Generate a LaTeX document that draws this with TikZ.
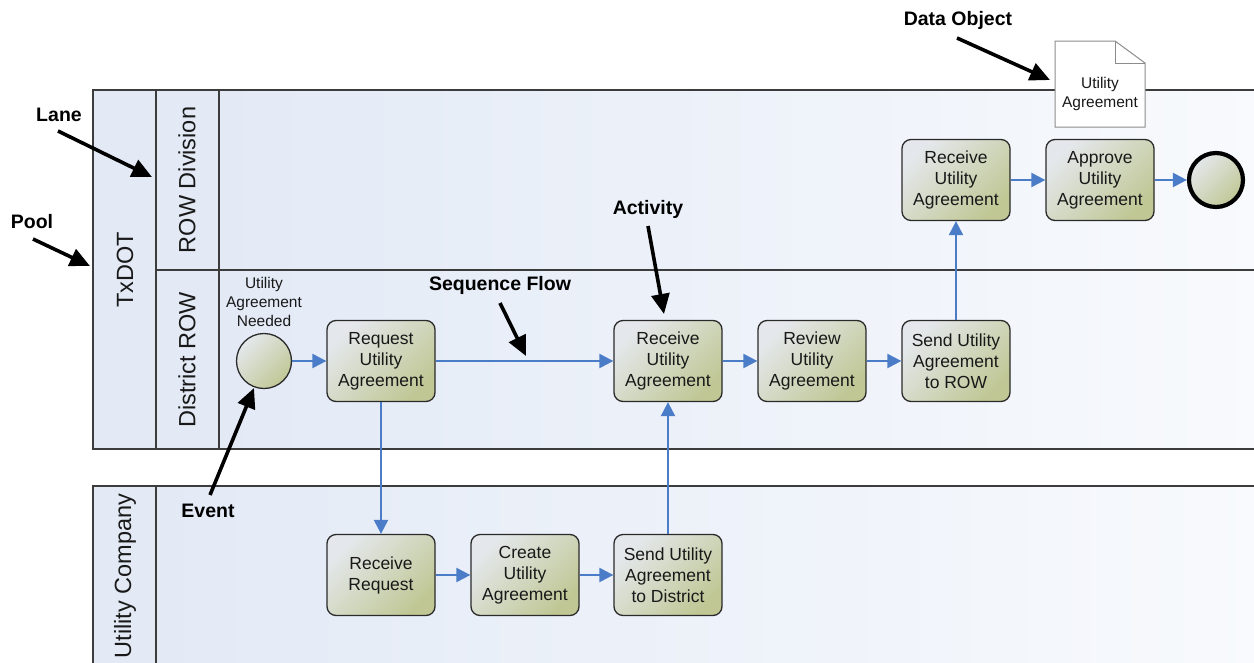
\documentclass[tikz,border=0pt]{standalone}
\usepackage{fontspec}
\setmainfont{Liberation Sans}
\usetikzlibrary{arrows.meta,calc}
\definecolor{flowblue}{HTML}{4A7CC8}
\definecolor{laneL}{HTML}{E3EAF6}
\definecolor{laneR}{HTML}{F8FAFD}
\definecolor{colfill}{HTML}{E3EAF5}
\definecolor{poolgray}{HTML}{3C3C3C}
\definecolor{taskL}{HTML}{E4E8EC}
\definecolor{taskD}{HTML}{C0C795}
\definecolor{taskline}{HTML}{2A2A2A}
\begin{document}
\begin{tikzpicture}[x=1pt,y=-1pt,
  poolline/.style={draw=poolgray,line width=1.5pt},
  lanetext/.style={rotate=90,font=\fontsize{23.5}{26}\selectfont,text=black!90},
  task/.style={draw=taskline,line width=1.3pt,rounded corners=9pt,
    top color=taskL,bottom color=taskD,shading angle=45,
    minimum width=108pt,minimum height=81pt,inner sep=2pt,align=center,
    font=\fontsize{17.5}{21}\selectfont,text=black!90},
  evt/.style={circle,draw=taskline,top color=taskL,bottom color=taskD,shading angle=45,
    minimum size=55pt,inner sep=0pt},
  flow/.style={draw=flowblue,line width=2.2pt,-{Triangle[length=14pt,width=14pt]}},
  annot/.style={draw=black,line width=3.6pt,-{Triangle[length=20pt,width=18pt]}},
  annotext/.style={font=\fontsize{19.5}{22}\selectfont\bfseries,text=black},
  smalltext/.style={align=center,font=\fontsize{15.5}{19}\selectfont,text=black!90}
]
\clip (0,0) rectangle (1254,662);
\fill[white] (0,0) rectangle (1254,662);

% TxDOT pool
\fill[left color=laneL,right color=laneR] (219,90) rectangle (1262,449);
\fill[colfill] (93,90) rectangle (219,449);
\draw[poolline] (1262,90) -- (93,90) -- (93,449) -- (1262,449);
\draw[poolline] (156,90) -- (156,449);
\draw[poolline] (219,90) -- (219,449);
\draw[poolline] (156,270) -- (1262,270);

% Utility Company pool
\fill[left color=laneL,right color=laneR] (156,486) rectangle (1262,670);
\fill[colfill] (93,486) rectangle (156,670);
\draw[poolline] (1262,486) -- (93,486) -- (93,670);
\draw[poolline] (156,486) -- (156,670);

% lane / pool labels
\node[lanetext] (txdot) at (125,270) {TxDOT};
\node[lanetext] (rowdiv) at (187,180) {ROW Division};
\node[lanetext] (distrow) at (187,360) {District ROW};
\node[lanetext] (ucomp) at (125,576) {Utility Company};

% events
\node[evt,line width=1.3pt] (start) at (264,361) {};
\node[smalltext] (startlbl) at (264,302) {Utility\\Agreement\\Needed};
\node[evt,draw=black,line width=4.2pt,minimum size=54pt] (end) at (1216,180) {};

% tasks
\node[task] (req) at (381,361) {Request\\Utility\\Agreement};
\node[task] (recv) at (668,361) {Receive\\Utility\\Agreement};
\node[task] (review) at (812,361) {Review\\Utility\\Agreement};
\node[task] (sendrow) at (956,361) {Send Utility\\Agreement\\to ROW};
\node[task] (recvrow) at (956,180) {Receive\\Utility\\Agreement};
\node[task] (approve) at (1100,180) {Approve\\Utility\\Agreement};
\node[task] (recvreq) at (381,575) {Receive\\Request};
\node[task] (create) at (525,575) {Create\\Utility\\Agreement};
\node[task] (senddist) at (668,575) {Send Utility\\Agreement\\to District};

% data object
\filldraw[draw=black!45,fill=white,line width=1pt]
  (1055,41) -- (1115,41) -- (1145,63) -- (1145,127) -- (1055,127) -- cycle;
\draw[draw=black!45,line width=1pt] (1115,41) -- (1115,63) -- (1145,63);
\node[smalltext,font=\fontsize{15.5}{18.5}\selectfont] (data) at (1100,94) {Utility\\Agreement};

% sequence flows
\draw[flow] (start) -- (req);
\draw[flow] (req) -- (recv);
\draw[flow] (recv) -- (review);
\draw[flow] (review) -- (sendrow);
\draw[flow] (sendrow) -- (recvrow);
\draw[flow] (recvrow) -- (approve);
\draw[flow] (approve) -- (end);
\draw[flow] (req) -- (recvreq);
\draw[flow] (recvreq) -- (create);
\draw[flow] (create) -- (senddist);
\draw[flow] (senddist) -- (recv);

% annotations
\node[annotext] (dolbl) at (958,20) {Data Object};
\node[annotext] (lanelbl) at (59,115) {Lane};
\node[annotext] (poollbl) at (32,222) {Pool};
\node[annotext] (actlbl) at (648,209) {Activity};
\node[annotext] (seqlbl) at (500,285) {Sequence Flow};
\node[annotext] (evtlbl) at (208,511) {Event};

\coordinate (doA) at (957,38);  \coordinate (doB) at (1050,80);
\coordinate (laneA) at (58,131); \coordinate (laneB) at (152,177);
\coordinate (poolA) at (33,239); \coordinate (poolB) at (90,266);
\coordinate (actA) at (648,226); \coordinate (actB) at (664,314);
\coordinate (seqA) at (500,303); \coordinate (seqB) at (526,356);
\coordinate (evtA) at (210,495); \coordinate (evtB) at (254,388);

\draw[annot] (doA) -- (doB);
\draw[annot] (laneA) -- (laneB);
\draw[annot] (poolA) -- (poolB);
\draw[annot] (actA) -- (actB);
\draw[annot] (seqA) -- (seqB);
\draw[annot] (evtA) -- (evtB);
\end{tikzpicture}
\end{document}
